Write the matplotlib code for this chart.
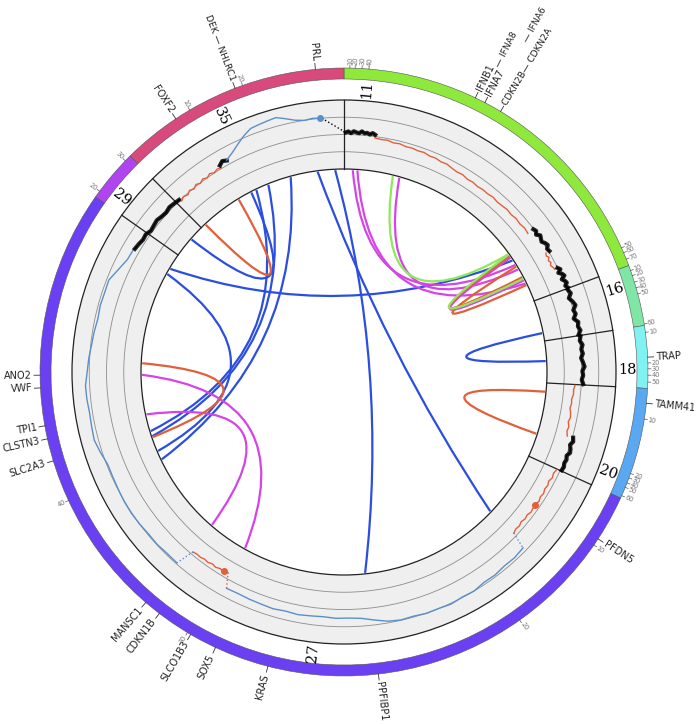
import numpy as np
import matplotlib.pyplot as plt
from matplotlib.patches import Wedge, Circle, PathPatch
from matplotlib.path import Path

plt.rcParams['font.family'] = ['DejaVu Sans']

# chromosomes, angles in degrees clockwise from 12 o'clock
chrom_names = ['11', '16', '18', '20', '27', '29', '35']
chrom_start = [0.0, 69.5, 81.2, 93.1, 114.5, 305.2, 315.3]
chrom_end = [69.5, 81.2, 93.1, 114.5, 305.2, 315.3, 360.0]
chrom_colors = ['#8fe83c', '#7fe6a6', '#80f2f2', '#5aa8f2', '#6a40f2', '#b044f0', '#d8497c']
chrom_label_pos = [4.7, 73.0, 89.6, 110.8, 186.3, 308.1, 334.4]

# scale ticks on the ideogram
tick_pos = [1.1, 2.1, 3.4, 4.7, 65.9, 66.9, 68.2, 70.5, 71.5, 72.8, 73.9, 75.1, 80.9,
            82.5, 88.3, 89.4, 90.6, 91.9, 98.9, 109.5, 110.4, 111.4, 112.3, 114.0,
            124.7, 144.7, 211.0, 245.0, 306.5, 314.0, 329.5, 340.5]
tick_text = ['10', '20', '30', '40', '50', '60', '70', '10', '20', '30', '40', '50', '60',
             '10', '20', '30', '40', '50', '10', '20', '30', '40', '50', '60',
             '10', '20', '30', '40', '20', '30', '10', '20']

# gene labels (stacked names sit further out, without their own tick)
genes = ['PRL', 'DEK — NHLRC1', 'FOXF2', 'IFNB1', '— IFNA8', '— IFNA6', 'IFNA7',
         'CDKN2B— CDKN2A', 'TRAP', 'TAMM41', 'PFDN5', 'PPFIBP1', 'KRAS', 'SOX5', 'SLCO1B3',
         'CDKN1B', 'MANSC1', 'SLC2A3', 'CLSTN3', 'TPI1', 'VWF', 'ANO2']
gene_pos = [354.6, 339.0, 326.4, 25.6, 26.8, 28.8, 27.6, 31.0, 87.2, 95.9, 123.3, 173.5,
            194.5, 205.0, 210.3, 217.4, 220.7, 253.0, 257.3, 259.8, 267.0, 269.4]
gene_rad = [312, 312, 312, 312, 342, 377, 312, 312, 312, 312, 312, 312,
            312, 312, 312, 312, 312, 312, 312, 312, 312, 312]

# copy-number segments (track values, 0 = middle grid line)
cn_colors = ['black', '#e0603a', 'black', '#e0603a', 'black', 'black', 'black', '#e0603a',
             'black', '#e0603a', '#5b8fc9', '#e0603a', '#5b8fc9', 'black', '#e0603a', 'black',
             '#5b8fc9']
cn_start = [0.4, 7.5, 53.0, 59.5, 64.0, 69.8, 81.4, 93.3, 106.0, 114.7, 134.5, 210.0, 221.2,
            300.5, 316.5, 329.0, 331.0]
cn_end = [7.5, 53.0, 59.5, 64.0, 69.3, 81.0, 92.9, 106.0, 114.3, 133.5, 208.5, 220.0, 300.5,
          316.2, 329.0, 331.0, 355.0]
cn_thick = [True, False, True, False, True, True, True, False, True, False, False, False, False,
            True, False, True, False]
cn_values = [
    [0.12, 0.18, 0.08, 0.2, 0.14, 0.1, 0.22, 0.12, 0.16, 0.08, 0.18, 0.1],
    [-0.08, -0.12, -0.1, -0.18, -0.15, -0.22, -0.2, -0.25, -0.22, -0.3, -0.28, -0.35, -0.32,
     -0.4, -0.45, -0.42, -0.5, -0.47, -0.52, -0.48, -0.5, -0.45, -0.5, -0.47, -0.42, -0.46,
     -0.4, -0.44, -0.38, -0.42],
    [-0.02, 0.05, -0.08, 0.1, 0.02, -0.05, 0.08, 0.15, 0.0, 0.05],
    [-0.18, -0.25, -0.15, -0.28, -0.2, -0.3, -0.22, -0.18],
    [0.0, 0.12, -0.08, 0.1, 0.18, -0.05, 0.08, 0.15, 0.0, 0.1],
    [0.05, 0.15, -0.05, 0.1, 0.2, 0.0, 0.08, -0.1, 0.12, 0.05, 0.15, 0.0],
    [0.1, 0.02, 0.15, 0.05, 0.12, 0.0, 0.1, 0.18, 0.05, 0.1, 0.02, 0.12],
    [-0.35, -0.42, -0.4, -0.48, -0.45, -0.5, -0.42, -0.38, -0.45, -0.35, -0.4, -0.3],
    [0.05, 0.12, 0.0, 0.1, 0.15, 0.02, 0.1, 0.05, 0.12, 0.08],
    [-0.2, -0.28, -0.22, -0.32, -0.25, -0.3, -0.22, -0.28, -0.2, -0.3, -0.26, -0.22, -0.3,
     -0.25, -0.32, -0.24, -0.28, -0.2],
    [0.78, 0.85, 0.82, 0.9, 0.88, 1.0, 0.97, 1.05, 1.0, 1.02, 0.95, 0.98, 0.9, 0.72, 0.55,
     0.5, 0.52, 0.47, 0.5, 0.55, 0.5, 0.56, 0.52, 0.5, 0.47, 0.5],
    [-0.32, -0.25, -0.3, -0.22, -0.28, -0.2, -0.24, -0.18, -0.2, -0.15],
    [0.94, 0.92, 0.97, 0.95, 1.0, 1.03, 1.02, 0.98, 0.95, 0.94, 1.1, 1.24, 1.2, 1.17, 1.22,
     1.24, 1.12, 1.05, 0.95, 0.9, 0.83, 0.88, 0.85, 0.87, 0.6, 0.38, 0.35],
    [0.3, 0.25, 0.18, 0.22, 0.1, 0.15, 0.2, 0.12, 0.08, 0.15, 0.1, 0.05],
    [-0.1, 0.02, -0.08, 0.05, -0.05, 0.08, -0.02, 0.1, 0.0, 0.12, 0.02, 0.1, 0.05],
    [0.2, 0.35, 0.25],
    [0.27, 0.5, 0.8, 1.1, 1.35, 1.4, 1.45, 1.5, 1.3, 1.1, 1.0, 1.05, 1.0],
]
cn_dotted = [(9, 10), (10, 11), (11, 12), (16, 0)]
cn_blobs = [(124.9, -0.25, '#e0603a'), (211.0, -0.3, '#e0603a'), (354.6, 1.0, '#5b8fc9')]

# links between positions
link_from = [357.5, 352.5, 344.7, 338.0, 334.3, 311.0, 300.7, 299.0, 78.9,
             2.5, 15.9, 3.8, 269.2, 257.9, 55.5,
             316.8, 251.2, 95.6, 55.0, 58.5,
             14.0, 54.5]
link_to = [174.0, 133.6, 244.4, 251.5, 253.0, 332.7, 56.5, 247.0, 86.9,
           58.0, 59.5, 64.0, 209.3, 220.8, 63.0,
           328.6, 272.5, 107.8, 62.0, 64.5,
           54.4, 62.5]
link_colors = ['#2c4ee0'] * 9 + ['#d444e6'] * 6 + ['#e0603a'] * 5 + ['#8ee85a'] * 2

R_IN, R_OUT = 203.0, 272.0
R_MID, STEP = 237.5, 17.25
R_IDEO, IDEO_W = 304.0, 11.0


def xy(theta, r):
    t = np.radians(theta)
    return r * np.sin(t), r * np.cos(t)


def radial_rot(theta):
    if theta % 360 < 180:
        return 90 - theta, 'left'
    return 270 - theta, 'right'


fig = plt.figure(figsize=(6.97, 7.24), dpi=100)
ax = fig.add_axes([0, 0, 1, 1])
ax.set_xlim(-344, 353)
ax.set_ylim(-352, 372)
ax.axis('off')

# ideogram
for s, e, c in zip(chrom_start, chrom_end, chrom_colors):
    ax.add_patch(Wedge((0, 0), R_IDEO, 90 - e, 90 - s, width=IDEO_W, fc=c, ec='#555555', lw=0.4))

for a, t in zip(tick_pos, tick_text):
    x1, y1 = xy(a, R_IDEO)
    x2, y2 = xy(a, R_IDEO + 3)
    ax.plot([x1, x2], [y1, y2], color='#555555', lw=0.5)
    rot, ha = radial_rot(a)
    tx, ty = xy(a, R_IDEO + 3.5)
    ax.text(tx, ty, t, fontsize=4.8, color='#777777', rotation=rot, ha=ha, va='center',
            rotation_mode='anchor')

for g, a, gr in zip(genes, gene_pos, gene_rad):
    if gr == 312:
        x1, y1 = xy(a, R_IDEO)
        x2, y2 = xy(a, R_IDEO + 6)
        ax.plot([x1, x2], [y1, y2], color='#333333', lw=0.6)
    rot, ha = radial_rot(a)
    tx, ty = xy(a, gr)
    size = 6.6 if ('—' in g or gr > 312) else 7
    ax.text(tx, ty, g, fontsize=size, color='#222222', rotation=rot, ha=ha, va='center',
            rotation_mode='anchor')

# data track background and grid
ax.add_patch(Wedge((0, 0), R_OUT, 0, 360, width=R_OUT - R_IN, fc='#efefef', ec='none'))
for k in (-1, 0, 1):
    ax.add_patch(Circle((0, 0), R_MID + k * STEP, fill=False, ec='#8c8c8c', lw=0.6))
for r in (R_IN, R_OUT):
    ax.add_patch(Circle((0, 0), r, fill=False, ec='#222222', lw=0.9))
for s in chrom_start:
    x1, y1 = xy(s, R_IN)
    x2, y2 = xy(s, R_OUT)
    ax.plot([x1, x2], [y1, y2], color='#222222', lw=0.9)

for name, a in zip(chrom_names, chrom_label_pos):
    rot, _ = radial_rot(a)
    tx, ty = xy(a, 283)
    ax.text(tx, ty, name, fontsize=10.5, family='DejaVu Serif', rotation=rot,
            ha='center', va='center')

# copy-number lines
for c, s, e, vals, thick in zip(cn_colors, cn_start, cn_end, cn_values, cn_thick):
    ang = np.linspace(s, e, len(vals))
    r = R_MID + STEP * np.array(vals)
    x, y = xy(ang, r)
    ax.plot(x, y, color=c, lw=1.0, solid_joinstyle='miter')
    if thick:
        ax.plot(x, y, color=c, lw=3.0, alpha=0.85)

for i, j in cn_dotted:
    a1, v1 = cn_end[i], cn_values[i][-1]
    a2, v2 = cn_start[j], cn_values[j][0]
    if a2 < a1:
        a2 += 360
    ang = np.array([a1, a2])
    x, y = xy(ang, R_MID + STEP * np.array([v1, v2]))
    ax.plot(x, y, color=cn_colors[j], lw=1.0, ls=':')

for a, v, c in cn_blobs:
    x, y = xy(a, R_MID + STEP * v)
    ax.plot(x, y, 'o', color=c, ms=4)

# links
for a, b, c in zip(link_from, link_to, link_colors):
    d = (b - a) % 360
    mid = a + d / 2 if d <= 180 else a - (360 - d) / 2
    p0 = xy(a, R_IN - 1)
    p2 = xy(b, R_IN - 1)
    cp = xy(mid, 45)
    path = Path([p0, cp, p2], [Path.MOVETO, Path.CURVE3, Path.CURVE3])
    ax.add_patch(PathPatch(path, fc='none', ec=c, lw=1.6))

fig.savefig('out.png', dpi=100)
